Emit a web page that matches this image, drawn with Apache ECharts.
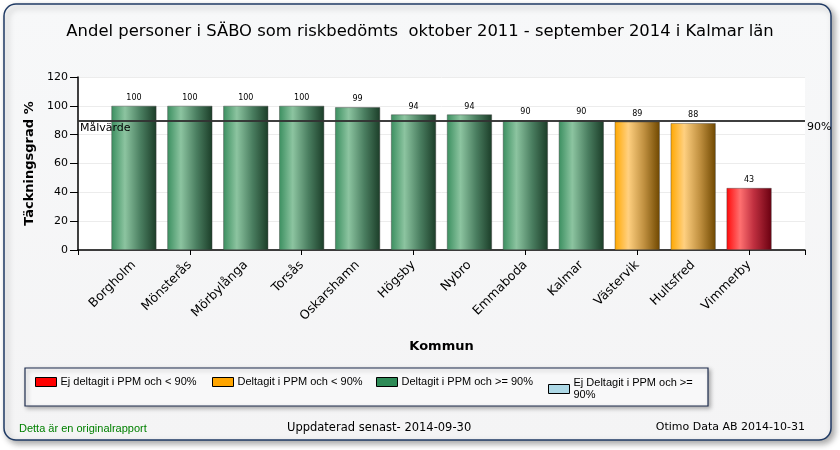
<!DOCTYPE html>
<html>
<head>
<meta charset="utf-8">
<script src="https://cdn.jsdelivr.net/npm/echarts@6/dist/echarts.min.js"></script>
<style>html,body{margin:0;padding:0;background:#fff;}#c{width:840px;height:450px;}</style>
</head>
<body>
<div id="c"></div>
<script>
const categories = ['Borgholm','Mönsterås','Mörbylånga','Torsås','Oskarshamn','Högsby','Nybro','Emmaboda','Kalmar','Västervik','Hultsfred','Vimmerby'];
const values = [100,100,100,100,99,94,94,90,90,89,88,43];
// group per category: 0 = Ej deltagit <90, 1 = Deltagit <90, 2 = Deltagit >=90, 3 = Ej deltagit >=90
const groups = [2,2,2,2,2,2,2,2,2,1,1,0];
const seriesNames = ['Ej deltagit i PPM och < 90%','Deltagit i PPM och < 90%','Deltagit i PPM och >= 90%','Ej Deltagit i PPM och >= 90%'];
const targetValue = 90;
const yTicks = {min:0, max:120, interval:20};

const legendColors = ['#ff0000','#ffa500','#2e8b57','#add8e6'];
const gradients = [
  [['#ff0a0a',0],['#ff7070',0.3],['#c03040',0.6],['#6a0010',1]],
  [['#ffa800',0],['#ffd080',0.3],['#c09040',0.65],['#704800',1]],
  [['#3b8f60',0],['#8cc4a0',0.3],['#4a7e60',0.65],['#1b3d28',1]],
  [['#9cc8dc',0],['#d6ecf5',0.3],['#7aa6b8',1]]
];
function grad(g){return {type:'linear',x:0,y:0,x2:1,y2:0,colorStops:g.map(s=>({offset:s[1],color:s[0]}))};}

const xData = [''].concat(categories).concat(['']);
const FONT = 'DejaVu Sans';
const FONT2 = 'Liberation Sans';

const series = seriesNames.map((name,si)=>{
  const d = [null].concat(values.map((v,i)=>groups[i]===si ? v : null)).concat([null]);
  const s = {
    name, type:'bar', stack:'all', data:d, barWidth:45,
    itemStyle:{color:grad(gradients[si]), borderColor:'rgba(60,60,60,0.7)', borderWidth:0.6},
    label:{show:true, position:'top', fontSize:8, color:'#000', fontFamily:FONT, distance:4},
    emphasis:{disabled:true}
  };
  if(si===2){
    s.markLine = {
      silent:true, symbol:'none', animation:false,
      lineStyle:{color:'#333', width:1.5, type:'solid'},
      data:[
        {yAxis:targetValue, label:{show:true, position:'insideStartBottom', formatter:'Målvärde', color:'#000', fontSize:11, fontFamily:FONT, distance:[2,2]}},
        {yAxis:targetValue, label:{show:true, position:'end', formatter:targetValue+'%', color:'#000', fontSize:11, fontFamily:FONT, distance:2, offset:[0,7]}}
      ]
    };
  }
  return s;
});

const legendX = [30,207,371,543];
const legends = seriesNames.map((n,i)=>({
  left: legendX[i], top: i===3 ? 372 : 371, orient:'horizontal', padding:5,
  icon:'rect', itemWidth:21, itemHeight:9, itemGap:5,
  selectedMode:false,
  data:[{name:n, itemStyle:{color:legendColors[i], borderColor:'#000', borderWidth:1}}],
  formatter: i===3 ? ()=> 'Ej Deltagit i PPM och >=\n90%' : undefined,
  textStyle:{fontSize:11, color:'#000', fontFamily:FONT2, lineHeight:12, padding:[0,0,0,-1]}
}));

const chart = echarts.init(document.getElementById('c'), null, {renderer:'canvas'});
chart.setOption({
  animation:false,
  backgroundColor:'#ffffff',
  title:{text:'Andel personer i SÄBO som riskbedömts  oktober 2011 - september 2014 i Kalmar län', left:'center', top:19,
    textStyle:{fontSize:16.4, fontWeight:'normal', color:'#000', fontFamily:FONT}},
  graphic:[
    {type:'rect', z:-10, shape:{x:4,y:4,width:827,height:436,r:12},
     style:{fill:{type:'linear',x:0,y:0,x2:0,y2:1,colorStops:[{offset:0,color:'#f7f8f9'},{offset:1,color:'#f4f4f5'}]}, stroke:'#1f3a64', lineWidth:1.5, shadowBlur:6, shadowOffsetX:3, shadowOffsetY:3, shadowColor:'rgba(0,0,0,0.35)'}},
    {type:'rect', z:-5, shape:{x:25,y:368,width:683,height:38},
     style:{fill:'#f8f8f9', stroke:'#1f2d4f', lineWidth:1.2, shadowBlur:4, shadowOffsetX:2, shadowOffsetY:2, shadowColor:'rgba(0,0,0,0.3)'}},
    {type:'text', left:19, top:423, style:{text:'Detta är en originalrapport', fill:'#008000', font:'11px "Liberation Sans"'}},
    {type:'text', left:287, top:422, style:{text:'Uppdaterad senast- 2014-09-30', fill:'#000', font:'11.5px "DejaVu Sans"'}},
    {type:'text', right:35, top:422, style:{text:'Otimo Data AB 2014-10-31', fill:'#000', font:'11px "DejaVu Sans"'}}
  ],
  legend: legends,
  grid:{left:78, right:35, top:77, bottom:200, show:true, backgroundColor:'#ffffff', borderWidth:0},
  xAxis:{type:'category', data:xData, boundaryGap:false,
    name:'Kommun', nameLocation:'middle', nameGap:90,
    nameTextStyle:{fontSize:13, fontWeight:'bold', color:'#000', fontFamily:FONT},
    axisLine:{lineStyle:{color:'#000', width:1.5}},
    axisTick:{interval:1, length:5, lineStyle:{color:'#000'}},
    axisLabel:{interval:0, rotate:45, fontSize:12.5, color:'#000', fontFamily:FONT, margin:13},
    splitLine:{show:false}},
  yAxis:{type:'value', min:yTicks.min, max:yTicks.max, interval:yTicks.interval,
    name:'Täckningsgrad %', nameLocation:'middle', nameGap:41,
    nameTextStyle:{fontSize:13, fontWeight:'bold', color:'#000', fontFamily:FONT},
    axisLine:{show:true, lineStyle:{color:'#000', width:1.5}},
    axisTick:{show:true, length:8, lineStyle:{color:'#000'}},
    axisLabel:{fontSize:11, color:'#000', fontFamily:FONT, margin:10},
    splitLine:{lineStyle:{color:'#ececec'}}},
  series: series
});
</script>
</body>
</html>
